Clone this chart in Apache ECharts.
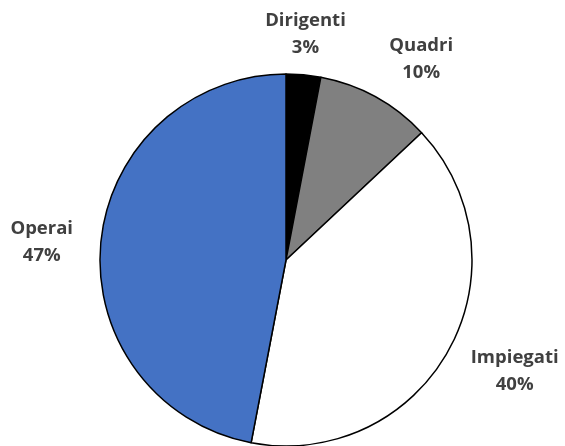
<!DOCTYPE html>
<html>
<head>
<meta charset="utf-8">
<script src="https://cdn.jsdelivr.net/npm/echarts@6/dist/echarts.min.js"></script>
<style>
  html, body { margin: 0; padding: 0; background: #fff; }
  #chart { width: 565px; height: 446px; }
</style>
</head>
<body>
<div id="chart"></div>
<script>
// dati
const categories = ['Dirigenti', 'Quadri', 'Impiegati', 'Operai']
const values = [3, 10, 40, 47]
const colors = ['#000000', '#808080', '#ffffff', '#4472c4']

const CX = 286, CY = 260, R = 186
// distanza etichetta dal centro + piccola correzione d'angolo (gradi)
const labelDist = [228, 243, 254, 245]
const labelTurn = [-0.5, 5, -3, -1]

const total = values.reduce((a, b) => a + b, 0)
function labelPos(i) {
    let before = 0
    for (let k = 0; k < i; k++) before += values[k]
    const mid = (before + values[i] / 2) / total * 360 + labelTurn[i]
    const a = mid * Math.PI / 180
    return { x: CX + labelDist[i] * Math.sin(a), y: CY - labelDist[i] * Math.cos(a) + 1 }
}

const chart = echarts.init(document.getElementById('chart'))
chart.setOption({
    animation: false,
    series: [{
        type: 'pie',
        center: [CX, CY],
        radius: [0, R],
        startAngle: 90,
        clockwise: true,
        data: categories.map((name, i) => ({
            name: name,
            value: values[i],
            itemStyle: { color: colors[i] }
        })),
        itemStyle: { borderColor: '#000', borderWidth: 1.5 },
        label: {
            show: true,
            position: 'outside',
            formatter: '{b}\n{d}%',
            fontFamily: 'Open Sans',
            fontWeight: 'bold',
            fontSize: 18.5,
            lineHeight: 27,
            color: '#404040',
            align: 'center',
            overflow: 'none',
            width: 120
        },
        labelLine: { show: false },
        labelLayout: function (params) {
            const p = labelPos(params.dataIndex)
            return { x: p.x, y: p.y, align: 'center', verticalAlign: 'middle' }
        },
        emphasis: { disabled: true }
    }]
})
</script>
</body>
</html>
